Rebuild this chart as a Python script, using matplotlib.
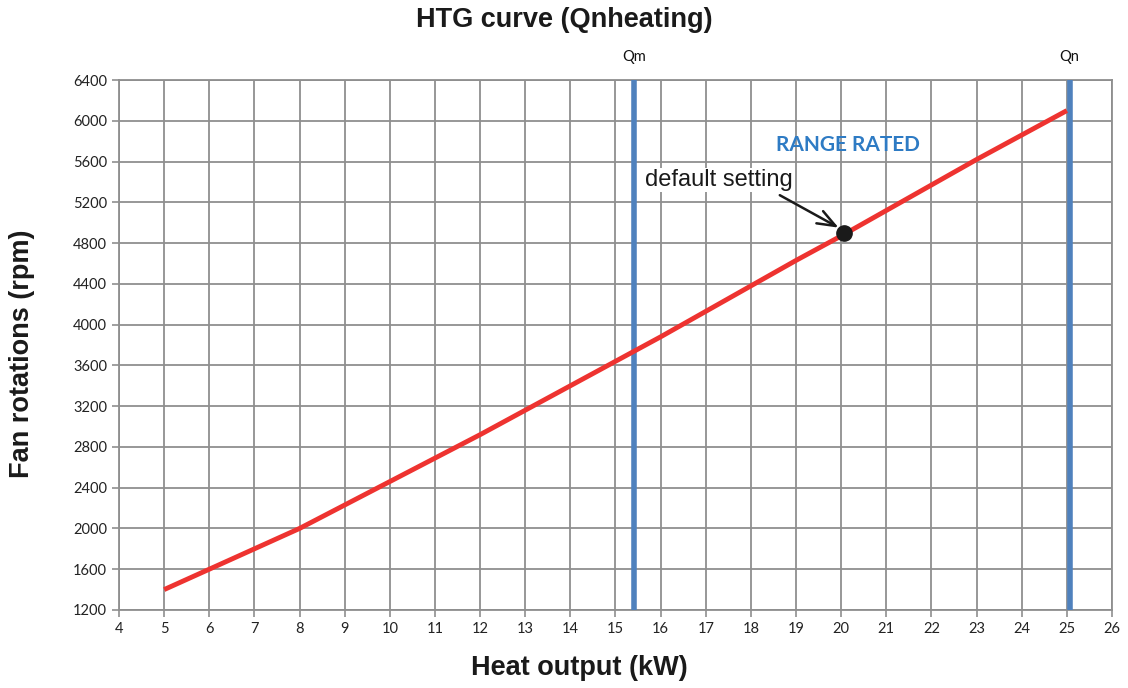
import matplotlib
matplotlib.use("Agg")
import matplotlib.pyplot as plt

# Heat output (kW) vs fan speed (rpm)
heat_kw = [5, 6, 7, 8, 9, 10, 11, 12, 13, 14, 15, 16, 17, 18, 19, 20, 21, 22, 23, 24, 25]
fan_rpm = [1400, 1600, 1800, 2000, 2230, 2460, 2690, 2920, 3160, 3400, 3640, 3880,
           4130, 4380, 4630, 4870, 5120, 5370, 5620, 5860, 6100]

qm_kw = 15.42
qn_kw = 25.06
default_kw = 20.07
default_rpm = 4900

x_ticks = list(range(4, 27))
y_ticks = list(range(1200, 6401, 400))

W, H = 1128, 688
fig = plt.figure(figsize=(W / 100, H / 100), dpi=100)
ax = fig.add_axes([0.1055, 0.1134, 0.8803, 0.7703])

grid_col = "#8f8f8f"
ax.set_xlim(4, 26)
ax.set_ylim(1200, 6400)
ax.set_xticks(x_ticks)
ax.set_yticks(y_ticks)
ax.grid(True, color=grid_col, linewidth=1.3)
ax.set_axisbelow(True)
for s in ax.spines.values():
    s.set_color(grid_col)
    s.set_linewidth(1.3)
ax.tick_params(axis="both", direction="out", length=5, width=1.2, color=grid_col,
               labelsize=10.5, labelcolor="#222222")
for lab in ax.get_xticklabels() + ax.get_yticklabels():
    lab.set_family("Lato")

# Qm / Qn limits
for xv, name in [(qm_kw, "Qm"), (qn_kw, "Qn")]:
    ax.axvline(xv, color="#4f81bd", linewidth=4, zorder=3)
    ax.text(xv, 6630, name, ha="center", va="center", fontsize=10.5,
            family="Lato", color="#111111", clip_on=False)

ax.plot(heat_kw, fan_rpm, color="#ee3330", linewidth=3.5, zorder=4,
        solid_capstyle="butt")

ax.plot([default_kw], [default_rpm], "o", color="#1a1a1a", markersize=11, zorder=5)
ax.annotate("", xy=(default_kw - 0.1, default_rpm + 45),
            xytext=(18.64, 5270),
            arrowprops=dict(arrowstyle="->,head_length=1.3,head_width=0.5",
                            color="#1a1a1a", lw=1.8, shrinkA=0, shrinkB=1),
            zorder=6)
ax.text(15.65, 5420, "default setting", fontsize=17, family="Liberation Sans",
        color="#1a1a1a", ha="left", va="center",
        bbox=dict(boxstyle="square,pad=0.05", fc="white", ec="none"), zorder=6)

ax.text(20.15, 5762, "RANGE RATED", ha="center", va="center", fontsize=15,
        fontweight="bold", family="Lato", color="#2e7bc4")

label_kw = dict(fontsize=19.5, fontweight="bold", family="Liberation Sans",
                color="#1a1a1a", ha="center", va="center")
fig.text(0.5, 1 - 20 / H, "HTG curve (Qnheating)", **label_kw)
fig.text(579 / W, 1 - 668 / H, "Heat output (kW)", **label_kw)
fig.text(22 / W, 1 - 354 / H, "Fan rotations (rpm)", rotation=90, **label_kw)

fig.savefig("out.png", dpi=100)
